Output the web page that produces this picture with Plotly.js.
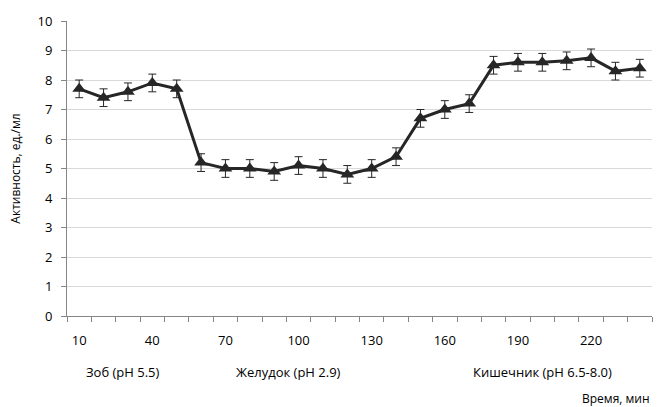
<!DOCTYPE html>
<html>
<head>
<meta charset="utf-8">
<script src="https://cdn.plot.ly/plotly-3.0.1.min.js"></script>
<style>html,body{margin:0;padding:0;background:#fff;}#chart{width:659px;height:407px;}</style>
</head>
<body>
<div id="chart"></div>
<script>
const times = [10,20,30,40,50,60,70,80,90,100,110,120,130,140,150,160,170,180,190,200,210,220,230,240];
const activity = [7.7,7.4,7.6,7.9,7.7,5.2,5.0,5.0,4.9,5.1,5.0,4.8,5.0,5.4,6.7,7.0,7.2,8.5,8.6,8.6,8.65,8.75,8.3,8.4];
const errors = [0.3,0.3,0.3,0.3,0.3,0.3,0.3,0.3,0.3,0.3,0.3,0.3,0.3,0.3,0.3,0.3,0.3,0.3,0.3,0.3,0.3,0.3,0.3,0.3];
const tickLabels = [10,40,70,100,130,160,190,220];
const sectionLabels = ["Зоб (pH 5.5)", "Желудок (pH 2.9)", "Кишечник (pH 6.5-8.0)"];
const sectionCenters = [28, 96, 200];

const font = "Open Sans, Liberation Sans, sans-serif";

const trace = {
  x: times, y: activity, type: 'scatter', mode: 'lines+markers',
  line: {color: '#262626', width: 3},
  marker: {symbol: 'triangle-up', size: 12, color: '#262626'},
  error_y: {type: 'data', array: errors, visible: true, color: '#262626', thickness: 1, width: 4},
  hoverinfo: 'skip'
};

const annotations = sectionLabels.map((t, i) => ({
  text: t, x: sectionCenters[i], xref: 'x', y: -0.19, yref: 'paper',
  xanchor: 'center', yanchor: 'middle', showarrow: false,
  font: {family: font, size: 13, color: '#000'}
}));
annotations.push({
  text: 'Время, мин', x: 1, xref: 'paper', y: -0.278, yref: 'paper',
  xanchor: 'right', yanchor: 'middle', showarrow: false,
  font: {family: font, size: 12, color: '#000'}
});

const layout = {
  width: 659, height: 407,
  margin: {l: 67, r: 7, t: 21, b: 91},
  paper_bgcolor: '#fff', plot_bgcolor: '#fff',
  showlegend: false,
  font: {family: font, size: 13, color: '#000'},
  xaxis: {
    range: [5, 245], showgrid: false, zeroline: false,
    showline: true, linecolor: '#868686', linewidth: 1,
    tickmode: 'array', tickvals: tickLabels, ticktext: tickLabels.map(String),
    ticks: '', ticklen: 0, ticklabelstandoff: 12,
    minor: {tickmode: 'linear', tick0: 5, dtick: 10, ticks: 'outside', ticklen: 5, tickcolor: '#868686', showgrid: false},
    tickfont: {family: font, size: 13, color: '#000'}
  },
  yaxis: {
    range: [0, 10], dtick: 1, showgrid: true, gridcolor: '#d9d9d9', gridwidth: 1,
    zeroline: false, showline: true, linecolor: '#868686', linewidth: 1,
    ticks: 'outside', ticklen: 5, tickcolor: '#868686', ticklabelstandoff: 6,
    tickfont: {family: font, size: 13, color: '#000'},
    title: {text: 'Активность, ед./мл', font: {family: font, size: 12, color: '#000'}, standoff: 14}
  },
  annotations: annotations
};

Plotly.newPlot('chart', [trace], layout, {staticPlot: true, displayModeBar: false});
</script>
</body>
</html>
